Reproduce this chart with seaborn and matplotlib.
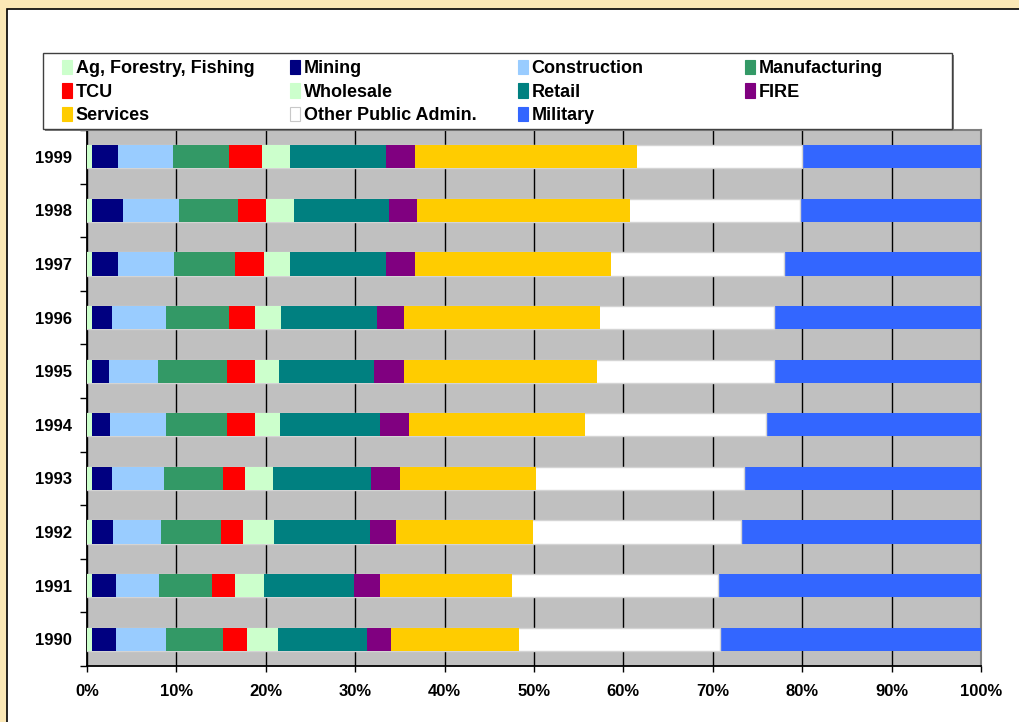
import numpy as np
import pandas as pd
import seaborn as sns
import matplotlib.pyplot as plt
from matplotlib.patches import Patch, Rectangle
from matplotlib.ticker import FixedLocator

# ---------------- data (percent shares, 1990..1999) ----------------
years = [1990, 1991, 1992, 1993, 1994, 1995, 1996, 1997, 1998, 1999]
sectors = ["Ag, Forestry, Fishing", "Mining", "Construction", "Manufacturing",
           "TCU", "Wholesale", "Retail", "FIRE", "Services",
           "Other Public Admin.", "Military"]
ag            = [0.56, 0.56, 0.56, 0.56, 0.56, 0.56, 0.56, 0.56, 0.56, 0.56]
mining        = [2.69, 2.69, 2.35, 2.24, 2.01, 1.90, 2.24, 2.91, 3.47, 2.91]
construction  = [5.59, 4.81, 5.37, 5.82, 6.27, 5.49, 6.04, 6.27, 6.27, 6.16]
manufacturing = [6.36, 5.94, 6.72, 6.58, 6.86, 7.75, 7.06, 6.76, 6.60, 6.27]
tcu           = [2.7, 2.5, 2.5, 2.5, 3.1, 3.1, 2.9, 3.3, 3.1, 3.7]
wholesale     = [3.5, 3.3, 3.4, 3.1, 2.8, 2.7, 2.9, 2.9, 3.1, 3.1]
retail        = [9.9, 10.1, 10.7, 11.0, 11.2, 10.6, 10.7, 10.7, 10.7, 10.7]
fire          = [2.7, 2.9, 3.0, 3.2, 3.2, 3.4, 3.1, 3.3, 3.1, 3.3]
services      = [14.3, 14.7, 15.3, 15.2, 19.7, 21.6, 21.9, 21.9, 23.8, 24.8]
other_public  = [22.5, 23.1, 23.2, 23.3, 20.2, 19.7, 19.4, 19.4, 19.0, 18.5]
military      = [29.2, 29.4, 26.9, 26.5, 24.1, 23.2, 23.2, 22.0, 20.3, 20.0]
series = [ag, mining, construction, manufacturing, tcu, wholesale, retail,
          fire, services, other_public, military]
colors = ["#CCFFCC", "#000080", "#99CCFF", "#339966", "#FF0000", "#CCFFCC",
          "#008080", "#800080", "#FFCC00", "#FFFFFF", "#3366FF"]
xticks = [0, 10, 20, 30, 40, 50, 60, 70, 80, 90, 100]
xtick_labels = ["0%", "10%", "20%", "30%", "40%", "50%", "60%", "70%", "80%", "90%", "100%"]

# ---------------- style ----------------
sns.set_theme(style="white")
plt.rcParams["font.family"] = ["Liberation Sans", "DejaVu Sans"]
plt.rcParams["font.weight"] = "bold"
plt.rcParams["text.color"] = "black"

W, H = 1019, 722
fig = plt.figure(figsize=(W / 100, H / 100), dpi=100)
fig.patch.set_facecolor("#FBE8B6")

# inner white panel
fig.add_artist(Rectangle((7 / W, -0.1), 1.2, 1 - 9 / H + 0.1, transform=fig.transFigure,
                         facecolor="white", edgecolor="black", linewidth=1.2, zorder=0))

ax = fig.add_axes([87 / W, 1 - 666 / H, (981 - 87) / W, (666 - 130) / H])
ax.set_facecolor("#C0C0C0")

df = pd.DataFrame({"year": [str(y) for y in years]})
order = [str(y) for y in years[::-1]]
cum = np.cumsum(np.array(series), axis=0)
for i in range(len(series) - 1, -1, -1):
    df["cum"] = cum[i]
    is_white = colors[i].upper() == "#FFFFFF"
    sns.barplot(data=df, x="cum", y="year", order=order, orient="h",
                color=colors[i], saturation=1, width=0.43, ax=ax,
                edgecolor="#D4D4D4" if is_white else colors[i],
                linewidth=1.0 if is_white else 0, zorder=3)

ax.set_xlim(0, 100)
ax.set_ylim(9.5, -0.5)
ax.set_xlabel("")
ax.set_ylabel("")
ax.xaxis.set_major_locator(FixedLocator(xticks))
ax.set_xticklabels(xtick_labels, fontsize=12, fontweight="bold", color="black")
for lab in ax.get_yticklabels():
    lab.set_fontsize(12)
    lab.set_fontweight("bold")
    lab.set_color("black")

ax.grid(axis="x", color="black", linewidth=1.0)
ax.grid(axis="y", visible=False)
ax.set_axisbelow(True)

ax.tick_params(axis="x", which="major", direction="out", length=4, width=1,
               color="black", pad=9, bottom=True)
ax.tick_params(axis="y", which="major", length=0, pad=11, left=True)
ax.yaxis.set_minor_locator(FixedLocator(np.arange(-0.5, 10, 1.0)))
ax.tick_params(axis="y", which="minor", direction="out", length=5, width=1,
               color="black", left=True)

for s in ["left", "bottom"]:
    ax.spines[s].set_color("black")
    ax.spines[s].set_linewidth(1.3)
for s in ["top", "right"]:
    ax.spines[s].set_color("#808080")
    ax.spines[s].set_linewidth(1.5)

# ---------------- legend ----------------
# box with shadow
fig.add_artist(Rectangle(((43 + 2) / W, 1 - (129 + 2) / H), 909 / W, 76 / H,
                         transform=fig.transFigure, facecolor="#808080",
                         edgecolor="none", zorder=1))
fig.add_artist(Rectangle((43 / W, 1 - 129 / H), 909 / W, 76 / H,
                         transform=fig.transFigure, facecolor="white",
                         edgecolor="#404040", linewidth=1, zorder=2))

handles = [Patch(facecolor=c, edgecolor="#C8C8C8" if c == "#FFFFFF" else c, linewidth=0.8)
           for c in colors]
col_groups = [[0, 4, 8], [1, 5, 9], [2, 6, 10], [3, 7]]
col_x = [62, 290, 518, 745]
for xs, grp in zip(col_x, col_groups):
    leg = fig.legend([handles[i] for i in grp], [sectors[i] for i in grp],
                     loc="upper left", bbox_to_anchor=(xs / W, 1 - 60 / H),
                     frameon=False, borderpad=0, borderaxespad=0,
                     handlelength=0.55, handleheight=0.85, handletextpad=0.2,
                     labelspacing=0.33, labelcolor="black",
                     prop={"family": "Liberation Sans", "weight": "bold", "size": 13})
    leg.set_zorder(5)

fig.savefig("out.png", dpi=100, facecolor=fig.get_facecolor())
